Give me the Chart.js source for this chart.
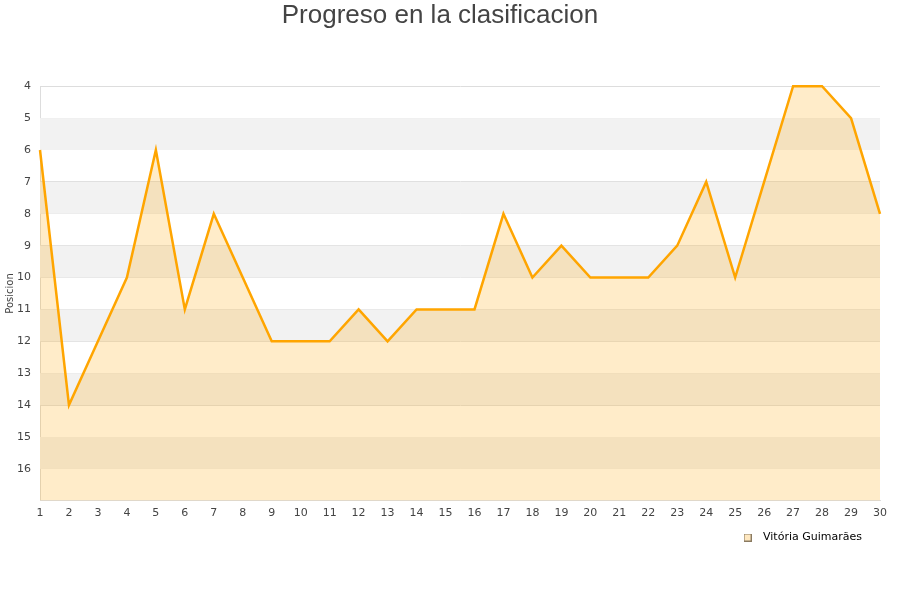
<!DOCTYPE html>
<html>
<head>
  <title>Progreso en la clasificacion</title>
  <script src="https://cdn.jsdelivr.net/npm/chart.js"></script>
  <style>
    body { margin: 0; background: #fff; }
    #wrap { width: 900px; height: 600px; }
  </style>
</head>
<body>
  <div id="wrap"><canvas id="posChart"></canvas></div>

  <script>
    // jornadas y posiciones
    var jornadas = ['1','2','3','4','5','6','7','8','9','10','11','12','13','14','15',
                    '16','17','18','19','20','21','22','23','24','25','26','27','28','29','30'];
    var posiciones = [6, 14, 12, 10, 6, 11, 8, 10, 12, 12, 12, 11, 12, 11, 11,
                      11, 8, 10, 9, 10, 10, 10, 9, 7, 10, 7, 4, 4, 5, 8];
    var equipo = 'Vitória Guimarães';
    var posMin = 4, posMax = 17;

    // cuadradito de la leyenda
    var marca = document.createElement('canvas');
    marca.width = 8; marca.height = 8;
    (function() {
      var c = marca.getContext('2d');
      c.fillStyle = '#ffe8c0';
      c.fillRect(0, 0, 8, 8);
      c.strokeStyle = '#8a7a60';
      c.lineWidth = 1;
      c.strokeRect(0.5, 0.5, 7, 7);
    })();

    // franjas grises alternas en el fondo
    var bandas = {
      id: 'bandas',
      afterLayout: function(chart) {
        chart.legend.left -= 11;
        chart.legend.right -= 11;
        chart.legend.top -= 1;
        chart.legend.bottom -= 1;
      },
      beforeDatasetsDraw: function(chart) {
        var ctx = chart.ctx, area = chart.chartArea, y = chart.scales.y;
        ctx.save();
        ctx.fillStyle = '#f2f2f2';
        for (var v = posMin + 1; v < posMax; v += 2) {
          var top = y.getPixelForValue(v), bot = y.getPixelForValue(v + 1);
          ctx.fillRect(area.left, top, area.right - area.left, bot - top);
        }
        ctx.restore();
      }
    };

    new Chart(document.getElementById('posChart'), {
      type: 'line',
      data: {
        labels: jornadas,
        datasets: [{
          label: equipo,
          data: posiciones,
          borderColor: '#ffa500',
          borderWidth: 2.5,
          backgroundColor: 'rgba(255,165,0,0.21)',
          fill: 'start',
          pointRadius: 0,
          tension: 0,
          clip: false
        }]
      },
      options: {
        responsive: true,
        maintainAspectRatio: false,
        animation: false,
        layout: { padding: { left: 0, right: 20, top: 0, bottom: 46 } },
        plugins: {
          title: {
            display: true,
            text: 'Progreso en la clasificacion',
            color: '#444',
            font: { family: 'Liberation Sans', size: 26, weight: 'normal' },
            padding: { top: 0, bottom: 55 }
          },
          legend: {
            position: 'bottom',
            align: 'end',
            labels: {
              color: '#000',
              usePointStyle: true,
              pointStyleWidth: 20,
              boxHeight: 9,
              padding: 7,
              font: { family: 'DejaVu Sans', size: 11 },
              generateLabels: function(chart) {
                return [{
                  text: equipo,
                  pointStyle: marca,
                  fillStyle: '#ffe8c0',
                  strokeStyle: '#888',
                  lineWidth: 1,
                  datasetIndex: 0
                }];
              }
            }
          },
          tooltip: { enabled: false }
        },
        scales: {
          x: {
            offset: false,
            grid: { display: false, drawTicks: false },
            border: { color: '#ddd' },
            ticks: { color: '#444', font: { family: 'DejaVu Sans', size: 11 }, maxRotation: 0, padding: 6 }
          },
          y: {
            reverse: true,
            min: posMin,
            max: posMax,
            afterFit: function(s) { s.width = 40; },
            grid: { color: '#ddd', drawTicks: false },
            border: { color: '#ddd' },
            ticks: {
              stepSize: 1,
              color: '#444',
              padding: 9,
              font: { family: 'DejaVu Sans', size: 11 },
              callback: function(v) { return v === posMax ? '' : v; }
            },
            title: {
              display: true,
              text: 'Posicion',
              color: '#444',
              padding: 4,
              font: { family: 'DejaVu Sans', size: 10 }
            }
          }
        }
      },
      plugins: [bandas]
    });
  </script>
</body>
</html>
